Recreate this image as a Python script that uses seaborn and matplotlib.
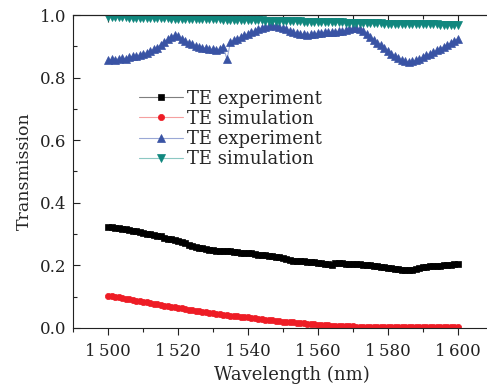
import numpy as np
import pandas as pd
import matplotlib
matplotlib.use('Agg')
import matplotlib.pyplot as plt
import seaborn as sns
from matplotlib.ticker import MultipleLocator, FixedLocator

# wavelength grid (nm), one point per nm
wavelength = list(range(1500, 1601))

te_exp_black = [
    0.321, 0.322, 0.320, 0.318, 0.315, 0.316, 0.312, 0.309, 0.308, 0.306,
    0.303, 0.301, 0.299, 0.296, 0.295, 0.292, 0.288, 0.285, 0.283, 0.280,
    0.277, 0.273, 0.270, 0.266, 0.262, 0.258, 0.256, 0.254, 0.252, 0.250,
    0.249, 0.247, 0.246, 0.245, 0.245, 0.244, 0.243, 0.241, 0.240, 0.240,
    0.239, 0.238, 0.236, 0.234, 0.233, 0.232, 0.230, 0.228, 0.227, 0.225,
    0.222, 0.220, 0.217, 0.215, 0.214, 0.213, 0.212, 0.211, 0.210, 0.209,
    0.208, 0.207, 0.205, 0.204, 0.202, 0.206, 0.207, 0.206, 0.205, 0.205,
    0.204, 0.204, 0.203, 0.202, 0.201, 0.200, 0.199, 0.198, 0.196, 0.194,
    0.192, 0.190, 0.189, 0.187, 0.186, 0.185, 0.185, 0.186, 0.188, 0.191,
    0.194, 0.196, 0.197, 0.198, 0.199, 0.199, 0.200, 0.201, 0.202, 0.203, 0.204,
]

te_sim_red = [
    0.103, 0.101, 0.099, 0.097, 0.095, 0.093, 0.091, 0.089, 0.087, 0.085,
    0.083, 0.081, 0.079, 0.077, 0.075, 0.073, 0.071, 0.069, 0.067, 0.065,
    0.064, 0.062, 0.060, 0.058, 0.057, 0.055, 0.053, 0.052, 0.050, 0.048,
    0.047, 0.045, 0.044, 0.042, 0.041, 0.039, 0.038, 0.037, 0.035, 0.034,
    0.033, 0.031, 0.030, 0.029, 0.027, 0.026, 0.025, 0.024, 0.022, 0.021,
    0.020, 0.019, 0.018, 0.017, 0.016, 0.015, 0.014, 0.013, 0.012, 0.011,
    0.010, 0.009, 0.009, 0.008, 0.007, 0.007, 0.006, 0.006, 0.005, 0.005,
    0.005, 0.004, 0.004, 0.004, 0.003, 0.003, 0.003, 0.003, 0.002, 0.002,
    0.002, 0.002, 0.002, 0.002, 0.002, 0.002, 0.001, 0.001, 0.001, 0.001,
    0.001, 0.001, 0.001, 0.001, 0.001, 0.001, 0.001, 0.001, 0.001, 0.001, 0.001,
]

te_exp_blue = [
    0.856, 0.858, 0.857, 0.860, 0.862, 0.861, 0.865, 0.868, 0.870, 0.872,
    0.876, 0.880, 0.885, 0.890, 0.896, 0.905, 0.915, 0.922, 0.930, 0.936,
    0.932, 0.925, 0.918, 0.912, 0.906, 0.902, 0.898, 0.896, 0.894, 0.892,
    0.890, 0.888, 0.892, 0.898, 0.858, 0.915, 0.920, 0.925, 0.930, 0.935,
    0.940, 0.945, 0.950, 0.955, 0.960, 0.963, 0.966, 0.968, 0.966, 0.962,
    0.958, 0.955, 0.950, 0.945, 0.942, 0.940, 0.938, 0.936, 0.938, 0.940,
    0.942, 0.944, 0.945, 0.946, 0.946, 0.947, 0.948, 0.950, 0.952, 0.955,
    0.958, 0.960, 0.955, 0.948, 0.940, 0.930, 0.920, 0.912, 0.903, 0.894,
    0.885, 0.877, 0.870, 0.862, 0.856, 0.852, 0.850, 0.852, 0.856, 0.860,
    0.866, 0.872, 0.877, 0.882, 0.887, 0.893, 0.899, 0.905, 0.911, 0.918, 0.925,
]

te_sim_teal = [
    0.994, 0.994, 0.993, 0.993, 0.993, 0.993, 0.992, 0.992, 0.992, 0.992,
    0.991, 0.991, 0.991, 0.991, 0.990, 0.990, 0.990, 0.990, 0.989, 0.989,
    0.989, 0.988, 0.988, 0.988, 0.988, 0.987, 0.987, 0.987, 0.987, 0.986,
    0.986, 0.986, 0.986, 0.985, 0.985, 0.985, 0.985, 0.984, 0.984, 0.984,
    0.984, 0.983, 0.983, 0.983, 0.983, 0.982, 0.982, 0.982, 0.981, 0.981,
    0.981, 0.981, 0.980, 0.980, 0.980, 0.980, 0.979, 0.979, 0.979, 0.979,
    0.978, 0.978, 0.978, 0.978, 0.977, 0.977, 0.977, 0.977, 0.976, 0.976,
    0.976, 0.976, 0.975, 0.975, 0.975, 0.974, 0.974, 0.974, 0.974, 0.973,
    0.973, 0.973, 0.973, 0.972, 0.972, 0.972, 0.972, 0.971, 0.971, 0.971,
    0.971, 0.970, 0.970, 0.970, 0.970, 0.969, 0.969, 0.969, 0.969, 0.968, 0.968,
]

labels = ['TE experiment', 'TE simulation', 'TE experiment', 'TE simulation']
xtick_vals = [1500, 1520, 1540, 1560, 1580, 1600]
xtick_labels = ['1\u2009500', '1\u2009520', '1\u2009540', '1\u2009560', '1\u2009580', '1\u2009600']

sns.set_style('ticks')
plt.rcParams['font.family'] = ['DejaVu Serif']
plt.rcParams['mathtext.fontset'] = 'dejavuserif'

fig = plt.figure(figsize=(4.87, 3.87), dpi=100)
ax = fig.add_axes([0.150, 0.153, 0.898, 0.808])

# (values, marker colour, line colour, marker, size)
series = [
    (te_exp_black, '#000000', '#7f7f7f', 's', 4.2),
    (te_sim_red, '#ee1c25', '#f5a0a0', 'o', 4.5),
    (te_exp_blue, '#3953a4', '#9aa8d6', '^', 5.5),
    (te_sim_teal, '#10877e', '#8cc8c3', 'v', 5.5),
]
for (vals, mc, lc, mk, ms), lab in zip(series, labels):
    df = pd.DataFrame({'wl': wavelength, 't': vals})
    sns.lineplot(data=df, x='wl', y='t', ax=ax, color=lc, linewidth=0.8,
                 marker=mk, markersize=ms, markerfacecolor=mc,
                 markeredgecolor=mc, markeredgewidth=0.5, label=lab)

ax.set_xlim(1490, 1615)
ax.set_ylim(0, 1.0)
ax.xaxis.set_major_locator(FixedLocator(xtick_vals))
ax.set_xticklabels(xtick_labels)
ax.xaxis.set_minor_locator(MultipleLocator(10))
ax.yaxis.set_major_locator(MultipleLocator(0.2))
ax.yaxis.set_minor_locator(MultipleLocator(0.1))
ax.yaxis.set_major_formatter(matplotlib.ticker.FormatStrFormatter('%.1f'))
ax.tick_params(which='both', right=False, top=False, labelsize=12,
               width=0.8, colors='#222222')
# left ticks point inward, bottom ticks outward
ax.tick_params(axis='y', which='both', direction='in')
ax.tick_params(axis='y', which='major', length=5, pad=5)
ax.tick_params(axis='y', which='minor', length=3)
ax.tick_params(axis='x', which='both', direction='out')
ax.tick_params(axis='x', which='major', length=5, pad=6)
ax.tick_params(axis='x', which='minor', length=3)

# top ticks point inward, no labels
top = ax.secondary_xaxis('top')
top.xaxis.set_major_locator(FixedLocator(xtick_vals))
top.xaxis.set_minor_locator(MultipleLocator(10))
top.tick_params(which='both', direction='in', labeltop=False, width=0.8,
                colors='#222222')
top.tick_params(which='major', length=5)
top.tick_params(which='minor', length=3)
top.spines['top'].set_linewidth(0.8)
top.spines['top'].set_color('#222222')

ax.spines['right'].set_visible(False)
for s in ['left', 'bottom', 'top']:
    ax.spines[s].set_linewidth(0.8)
    ax.spines[s].set_color('#222222')

ax.set_xlabel('Wavelength (nm)', fontsize=13, labelpad=4)
ax.set_ylabel('Transmission', fontsize=12.5, labelpad=5)

ax.legend(loc='upper left', bbox_to_anchor=(0.135, 0.785), frameon=False,
          fontsize=13, handlelength=2.4, handletextpad=0.25,
          labelspacing=0.12, borderaxespad=0)

fig.savefig('out.png', dpi=100)
